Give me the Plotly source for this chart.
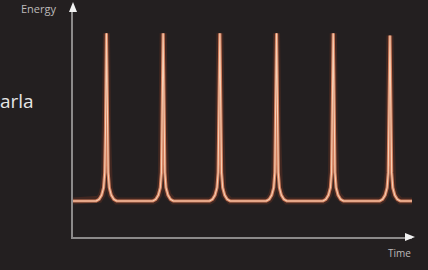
import plotly.graph_objects as go

# ---- data ----
peak_times = [1, 2, 3, 4, 5, 6]             # time of each energy spike
peak_energies = [9.05, 9.05, 9.05, 9.05, 9.05, 8.95]
baseline_energy = 1.6
time_start, time_end = 0.41, 6.42
# pulse profile: offset from peak time, fraction of spike height
pulse_offsets = [-0.18, -0.13, -0.085, -0.05, -0.03, -0.017, -0.008, 0.0,
                 0.008, 0.017, 0.03, 0.05, 0.085, 0.13, 0.18]
pulse_fraction = [0.0, 0.01, 0.035, 0.08, 0.17, 0.42, 0.8, 1.0,
                  0.8, 0.42, 0.17, 0.08, 0.035, 0.01, 0.0]
x_label, y_label = "Time", "Energy"
side_text = "arla"

# ---- build the line from the data ----
xs, ys = [time_start], [baseline_energy]
for t, e in zip(peak_times, peak_energies):
    for o, f in zip(pulse_offsets, pulse_fraction):
        xs.append(t + o)
        ys.append(baseline_energy + f * (e - baseline_energy))
xs.append(time_end)
ys.append(baseline_energy)

W, H = 428, 270
ml, mr, mt, mb = 73, 16, 12, 33
pw, ph = W - ml - mr, H - mt - mb

fig = go.Figure()
for color, width, op in [("#6e3524", 7, 0.4), ("#d27e5c", 3.2, 1.0), ("#f9d4ba", 1.1, 0.95)]:
    fig.add_trace(go.Scatter(x=xs, y=ys, mode="lines",
                             line=dict(color=color, width=width, shape="linear"),
                             opacity=op, hoverinfo="skip", showlegend=False))

bg = "#231f20"
axis_col = "#8c8a8a"

def px(xp):
    return (xp - ml) / pw

def py(yp):
    return (H - mb - yp) / ph

shapes = [
    dict(type="path", xref="paper", yref="paper",
         path=f"M {px(69)} {py(12)} L {px(73)} {py(2)} L {px(77)} {py(12)} Z",
         fillcolor="#f2f2f2", line=dict(width=0)),
    dict(type="path", xref="paper", yref="paper",
         path=f"M {px(405)} {py(233)} L {px(415)} {py(237)} L {px(405)} {py(241)} Z",
         fillcolor="#f2f2f2", line=dict(width=0)),
]

annotations = [
    dict(text=y_label, xref="paper", yref="paper", x=px(59), y=py(8),
         xanchor="right", yanchor="middle", showarrow=False,
         font=dict(family="Open Sans", size=11, color="#bdbaba")),
    dict(text=x_label, xref="paper", yref="paper", x=px(399), y=py(253),
         xanchor="center", yanchor="middle", showarrow=False,
         font=dict(family="Open Sans", size=10, color="#bdbaba")),
    dict(text=side_text, xref="paper", yref="paper", x=px(-2), y=py(101),
         xanchor="left", yanchor="middle", showarrow=False,
         font=dict(family="Open Sans", size=19, color="#e6e6e6")),
]

fig.update_layout(
    width=W, height=H,
    margin=dict(l=ml, r=mr, t=mt, b=mb),
    paper_bgcolor=bg, plot_bgcolor=bg,
    shapes=shapes, annotations=annotations,
    xaxis=dict(range=[time_start, time_start + pw / 56.7], showgrid=False, zeroline=False,
               showticklabels=False, ticks="", showline=True, linecolor=axis_col,
               linewidth=1.5, fixedrange=True),
    yaxis=dict(range=[0, 10], showgrid=False, zeroline=False, showticklabels=False,
               ticks="", showline=True, linecolor=axis_col, linewidth=1.5,
               fixedrange=True),
)

fig.write_html("out.html", config={"displayModeBar": False},
               post_script="document.body.style.margin='0';document.body.style.background='#231f20';")
